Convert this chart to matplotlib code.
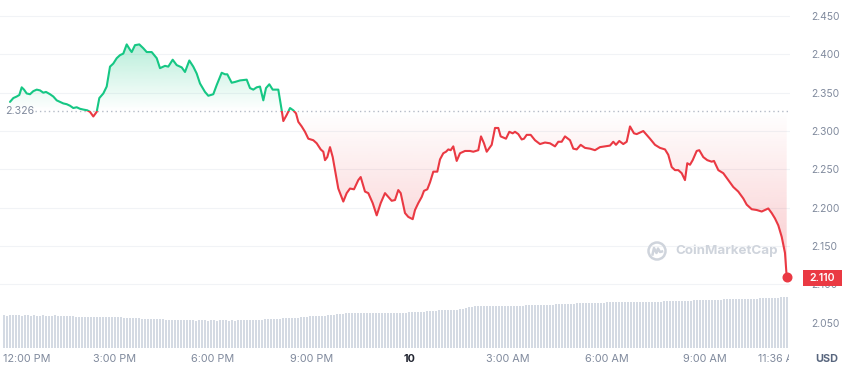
import numpy as np
import matplotlib
matplotlib.use("Agg")
import matplotlib.pyplot as plt
from matplotlib.path import Path
from matplotlib.patches import Rectangle, Circle
from matplotlib.lines import Line2D
from matplotlib.transforms import Bbox, TransformedBbox, blended_transform_factory
from matplotlib.colors import to_rgb

plt.rcParams['font.family'] = ['Inter', 'DejaVu Sans']

# ---------------- data ----------------
# time in hours since 12:00 PM (day 9)
times = [-0.183, -0.082, 0.021, 0.101, 0.174, 0.244, 0.326, 0.427, 0.527, 0.631,
         0.732, 0.832, 0.915, 1.037, 1.137, 1.241, 1.341, 1.442, 1.546, 1.646,
         1.747, 1.851, 1.951, 2.052, 2.174, 2.256, 2.357, 2.460, 2.540, 2.662,
         2.765, 2.866, 2.966, 3.070, 3.171, 3.271, 3.375, 3.476, 3.527, 3.628,
         3.759, 3.881, 3.985, 4.137, 4.290, 4.390, 4.543, 4.643, 4.777, 4.899,
         5.052, 5.152, 5.284, 5.405, 5.509, 5.610,
         5.762, 5.863, 6.015, 6.119, 6.271, 6.372, 6.442, 6.576, 6.677, 6.829,
         7.034, 7.134, 7.235, 7.338, 7.439, 7.540, 7.622, 7.723, 7.826, 7.997,
         8.101, 8.150, 8.253, 8.354, 8.454, 8.537, 8.607, 8.710, 8.811, 8.912,
         9.064, 9.168, 9.290, 9.369, 9.421, 9.491, 9.573, 9.656, 9.726, 9.826,
         9.979, 10.082, 10.183, 10.305, 10.436, 10.509, 10.640, 10.741, 10.875, 10.997,
         11.119, 11.250,
         11.351, 11.454, 11.555, 11.655, 11.729, 11.860, 11.960, 12.095, 12.165, 12.265,
         12.369, 12.439, 12.540, 12.622, 12.723, 12.845, 12.927, 13.027, 13.110, 13.180,
         13.253, 13.332, 13.436, 13.537, 13.689, 13.841, 13.942, 14.095, 14.177, 14.268,
         14.351, 14.503, 14.604, 14.704, 14.777, 14.939, 15.040, 15.143, 15.213, 15.314,
         15.418, 15.488, 15.570, 15.692, 15.823, 15.976, 16.128, 16.280, 16.433, 16.534,
         16.637, 16.738,
         16.890, 16.991, 17.095, 17.216, 17.348, 17.500, 17.652, 17.805, 17.957, 18.110,
         18.210, 18.293, 18.393, 18.515, 18.619, 18.720, 18.841, 18.924, 19.024, 19.125,
         19.229, 19.329, 19.482, 19.634, 19.787, 19.887, 19.991, 20.091, 20.192, 20.296,
         20.396, 20.466, 20.549, 20.631, 20.753, 20.832, 20.954, 21.076, 21.210, 21.280,
         21.412, 21.564, 21.716, 21.869, 22.021, 22.174, 22.277, 22.430, 22.582, 22.735,
         22.835, 22.936, 23.040, 23.140, 23.241, 23.345, 23.445, 23.497]

prices = [2.338, 2.343, 2.345, 2.347, 2.357, 2.354, 2.349, 2.348, 2.352, 2.354,
          2.353, 2.350, 2.351, 2.348, 2.345, 2.340, 2.338, 2.336, 2.335, 2.333,
          2.330, 2.331, 2.329, 2.328, 2.327, 2.325, 2.319, 2.325, 2.343, 2.349,
          2.358, 2.384, 2.388, 2.395, 2.399, 2.401, 2.413, 2.406, 2.403, 2.412,
          2.413, 2.408, 2.403, 2.403, 2.395, 2.382, 2.385, 2.384, 2.393, 2.386,
          2.383, 2.377, 2.392, 2.384, 2.375, 2.362,
          2.351, 2.346, 2.348, 2.360, 2.376, 2.374, 2.374, 2.363, 2.364, 2.366,
          2.367, 2.356, 2.354, 2.357, 2.358, 2.340, 2.356, 2.361, 2.354, 2.354,
          2.327, 2.313, 2.321, 2.330, 2.327, 2.323, 2.312, 2.306, 2.299, 2.290,
          2.288, 2.284, 2.276, 2.273, 2.262, 2.266, 2.279, 2.266, 2.249, 2.225,
          2.208, 2.219, 2.225, 2.224, 2.236, 2.240, 2.221, 2.219, 2.206, 2.190,
          2.206, 2.219,
          2.214, 2.209, 2.210, 2.223, 2.219, 2.193, 2.188, 2.185, 2.197, 2.206,
          2.214, 2.222, 2.224, 2.233, 2.247, 2.247, 2.263, 2.271, 2.273, 2.276,
          2.275, 2.280, 2.261, 2.271, 2.274, 2.274, 2.273, 2.275, 2.293, 2.284,
          2.273, 2.282, 2.304, 2.304, 2.293, 2.290, 2.299, 2.297, 2.299, 2.296,
          2.289, 2.290, 2.295, 2.295, 2.288, 2.283, 2.285, 2.284, 2.280, 2.286,
          2.286, 2.293,
          2.288, 2.277, 2.276, 2.282, 2.278, 2.277, 2.275, 2.279, 2.280, 2.281,
          2.286, 2.282, 2.287, 2.283, 2.286, 2.306, 2.297, 2.296, 2.298, 2.300,
          2.295, 2.290, 2.282, 2.278, 2.276, 2.269, 2.253, 2.249, 2.249, 2.245,
          2.236, 2.258, 2.256, 2.262, 2.274, 2.275, 2.266, 2.262, 2.260, 2.261,
          2.249, 2.245, 2.236, 2.227, 2.221, 2.212, 2.204, 2.198, 2.197, 2.195,
          2.197, 2.199, 2.193, 2.186, 2.177, 2.162, 2.141, 2.110]

base_price = 2.326
y_ticks = [2.050, 2.100, 2.150, 2.200, 2.250, 2.300, 2.350, 2.400, 2.450]
x_tick_pos = [0, 3, 6, 9, 12, 15, 18, 21]
x_tick_labels = ["12:00 PM", "3:00 PM", "6:00 PM", "9:00 PM", "10",
                 "3:00 AM", "6:00 AM", "9:00 AM"]
end_time_label = "11:36 AM"
currency = "USD"

# volume bars (relative units), oldest -> newest
volumes = [
    32.6, 32.5, 32.7, 32.6, 32.8, 32.6, 32.5, 32.7, 32.6, 32.5, 32.6, 32.4, 32.5, 32.6, 32.5, 32.4, 32.5, 32.6, 32.4, 32.3,
    32.2, 32.0, 31.8, 31.6, 31.5, 31.5, 31.4, 31.2, 31.1, 31.0, 31.0, 31.1, 31.0, 30.9, 31.0, 30.8, 30.9, 30.8, 30.7, 30.6,
    30.4, 30.2, 30.0, 29.8, 29.7, 29.6, 29.5, 29.4, 29.4, 29.3, 29.2, 29.0, 28.9, 28.7, 28.4, 28.2, 28.0, 27.9, 27.8, 27.8,
    27.7, 27.6, 27.7, 27.6, 27.5, 27.6, 27.7, 27.6, 27.5, 27.6, 27.6, 27.5, 27.6, 27.7, 27.6, 27.5, 27.6, 27.5, 27.6, 27.7,
    27.6, 27.7, 27.6, 27.8, 27.9, 28.1, 28.4, 28.6, 28.8, 29.0, 29.2, 29.4, 29.5, 29.6, 29.7, 29.8, 30.0, 30.2, 30.5, 30.8,
    31.0, 31.3, 31.6, 31.8, 32.0, 32.1, 32.2, 32.4, 32.7, 33.0, 33.4, 33.8, 34.1, 34.4, 34.6, 34.8, 34.9, 35.0, 35.0, 35.1,
    35.0, 35.1, 35.1, 35.2, 35.1, 35.2, 35.3, 35.2, 35.3, 35.4, 35.3, 35.4, 35.5, 35.4, 35.5, 35.6, 35.7, 35.8, 36.0, 36.2,
    36.5, 36.8, 37.1, 37.3, 37.5, 37.6, 37.6, 37.7, 37.8, 37.9, 38.0, 38.2, 38.6, 39.2, 39.9, 40.6, 41.2, 41.6, 41.9, 42.0,
    42.0, 42.1, 42.1, 42.2, 42.2, 42.3, 42.3, 42.3, 42.4, 42.4, 42.4, 42.5, 42.5, 42.5, 42.6, 42.6, 42.7, 42.7, 42.8, 42.8,
    42.9, 43.0, 43.2, 43.4, 43.6, 43.8, 44.0, 44.2, 44.3, 44.4, 44.5, 44.6, 44.7, 44.8, 44.9, 45.0, 45.1, 45.2, 45.3, 45.4,
    45.5, 45.6, 45.7, 45.7, 45.8, 45.8, 45.9, 45.9, 46.0, 46.0, 46.0, 46.1, 46.1, 46.2, 46.2, 46.3, 46.3, 46.4, 46.4, 46.5,
    46.6, 46.7, 46.8, 46.9, 47.0, 47.1, 47.2, 47.3, 47.4, 47.5, 47.6, 47.7, 47.8, 47.9, 48.0, 48.1, 48.2, 48.3, 48.4, 48.5,
    48.6, 48.7, 48.8, 48.9, 49.0, 49.0, 49.1, 49.2, 49.3, 49.3, 49.4, 49.5, 49.6, 49.7, 49.8, 49.9, 50.0, 50.2, 50.5, 51.0,
    51.2, 51.3]
vol_start = -0.366   # hours
vol_step = 0.0915    # hours between bars

assert len(times) == len(prices), (len(times), len(prices))

# ---------------- style ----------------
GREEN = '#16c784'
RED = '#ea3943'
TICK_C = '#808a9d'
GRID_C = '#f1f3f6'
VOL_C = '#d4dae3'

W, H = 850, 372
fig = plt.figure(figsize=(W / 100, H / 100), dpi=100)
fig.patch.set_facecolor('white')


def frame(x0, y0, x1, y1):
    return [x0 / W, 1 - y1 / H, (x1 - x0) / W, (y1 - y0) / H]


xlim = (-0.488, 23.598)
ylim = (2.0170, 2.4709)

axv = fig.add_axes(frame(0, 248, 790, 348))
ax = fig.add_axes(frame(0, 0, 790, 348))
ax.patch.set_alpha(0)

# volume
vol_times = vol_start + vol_step * np.arange(len(volumes))
axv.bar(vol_times, volumes, width=vol_step * 0.64, color=VOL_C, linewidth=0)
axv.set_xlim(*xlim)
axv.set_ylim(0, 100)
axv.axis('off')

t = np.asarray(times)
p = np.asarray(prices)

# gridlines
for yv in y_ticks:
    if yv > 2.08:
        ax.axhline(yv, color=GRID_C, lw=0.8, zorder=0)


def grad_fill(color, up, amax):
    if up:
        poly = ax.fill_between(t, p, base_price, where=p >= base_price,
                               interpolate=True, color='none', lw=0)
        y0, y1 = base_price, p.max()
        alpha = np.linspace(0.0, amax, 256)
    else:
        poly = ax.fill_between(t, p, base_price, where=p <= base_price,
                               interpolate=True, color='none', lw=0)
        y0, y1 = p.min(), base_price
        alpha = np.linspace(amax, 0.0, 256)
    cp = Path.make_compound_path(*poly.get_paths())
    img = np.zeros((256, 1, 4))
    img[..., :3] = to_rgb(color)
    img[:, 0, 3] = alpha
    im = ax.imshow(img, extent=[t[0], t[-1], y0, y1], aspect='auto',
                   origin='lower', zorder=1, interpolation='bilinear')
    im.set_clip_path(cp, transform=ax.transData)


grad_fill(GREEN, True, 0.30)
grad_fill(RED, False, 0.28)

# baseline
ax.axhline(base_price, xmin=35 / 790, xmax=1.0, color='#b4bbc7', lw=1.0,
           ls=(0, (1, 2.2)), zorder=2)
ax.text(5 / 790, base_price, f"{base_price:.3f}",
        transform=blended_transform_factory(ax.transAxes, ax.transData),
        ha='left', va='center', color=TICK_C, fontsize=7.6)

# price line, green above baseline, red below
big = 10
for col, rect in [(GREEN, Rectangle((xlim[0], base_price), xlim[1] - xlim[0], big)),
                  (RED, Rectangle((xlim[0], base_price - big), xlim[1] - xlim[0], big))]:
    rect.set_transform(ax.transData)
    ln, = ax.plot(t, p, color=col, lw=1.5, solid_joinstyle='round',
                  solid_capstyle='round', zorder=3)
    ln.set_clip_path(rect)

ax.plot([t[-1]], [p[-1]], 'o', ms=6.2, color=RED, zorder=4, clip_on=False)

ax.set_xlim(*xlim)
ax.set_ylim(*ylim)

# axes styling
for s in ax.spines.values():
    s.set_visible(False)
ax.set_xticks([])
ax.yaxis.tick_right()
ax.set_yticks(y_ticks)
ax.set_yticklabels([f"{v:.3f}" for v in y_ticks])
ax.tick_params(axis='y', length=0, pad=15, labelcolor=TICK_C, labelsize=7.4)

# x labels
ylab = 1 - 359 / H
trx = blended_transform_factory(ax.transData, fig.transFigure)
for pos, lab in zip(x_tick_pos, x_tick_labels):
    if pos == x_tick_pos[0]:
        ax.text(3 / 790, ylab, lab, transform=blended_transform_factory(ax.transAxes, fig.transFigure),
                ha='left', va='center', color=TICK_C, fontsize=7.8)
    elif lab == "10":
        ax.text(pos, ylab, lab, transform=trx, ha='center', va='center',
                color='#222531', fontsize=7.8, fontweight='bold')
    else:
        ax.text(pos, ylab, lab, transform=trx, ha='center', va='center',
                color=TICK_C, fontsize=7.8)

# last time label, clipped at the plot's right edge like the reference
end_txt = ax.annotate(end_time_label, xy=(t[-1], ylab), xycoords=trx,
                      xytext=(-29, 0), textcoords='offset pixels',
                      ha='left', va='center', color=TICK_C, fontsize=7.6,
                      annotation_clip=False)
end_txt.set_clip_on(True)
end_txt.set_clip_path(None)
end_txt.set_clip_box(TransformedBbox(Bbox([[0, 0], [789 / W, 1]]), fig.transFigure))

fig.text(815 / W, ylab, currency, ha='left', va='center', color='#58667e',
         fontsize=7.8, fontweight='bold')

# last price box
fig.canvas.draw()
ypix = ax.transData.transform((0, p[-1]))[1]
box_h = 16
fig.add_artist(Rectangle((803, ypix - box_h / 2 - 1), 39, box_h,
                         transform=None, facecolor=RED, edgecolor='none', zorder=5))
fig.text(822.5 / W, (ypix - 1) / H, f"{p[-1]:.3f}", ha='center', va='center',
         color='white', fontsize=7.6, fontweight='semibold', zorder=6)

# watermark
wm_c = '#cfd4dc'
fig.text(675 / W, 1 - 251 / H, "CoinMarketCap", ha='left', va='center', color=wm_c,
         fontsize=9.6, fontweight='bold')
cx, cy = 657 / 100, (H - 251) / 100
fig.add_artist(Circle((cx, cy), 0.085, transform=fig.dpi_scale_trans, fill=False,
                      edgecolor=wm_c, lw=1.8))
fig.add_artist(Line2D([cx - 0.045, cx - 0.03, cx - 0.005, cx + 0.01, cx + 0.03, cx + 0.05],
                      [cy - 0.035, cy + 0.03, cy - 0.02, cy + 0.025, cy - 0.01, cy - 0.005],
                      transform=fig.dpi_scale_trans, color=wm_c, lw=1.8,
                      solid_joinstyle='round'))

fig.savefig('out.png', dpi=100, facecolor='white')
